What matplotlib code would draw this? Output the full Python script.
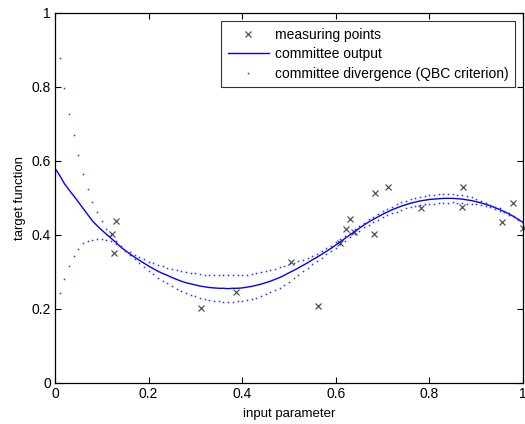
import numpy as np
import matplotlib
matplotlib.use("Agg")
import matplotlib.pyplot as plt

plt.rcParams['font.family'] = ['Liberation Sans', 'DejaVu Sans']

# ---- data ----
x_grid = np.round(np.arange(101) * 0.01, 2)

committee_output = [
    0.580, 0.561, 0.539, 0.522, 0.506, 0.489, 0.472, 0.455, 0.438, 0.425,
    0.413, 0.402, 0.391, 0.380, 0.368, 0.358, 0.349, 0.340, 0.332, 0.324,
    0.316, 0.309, 0.302, 0.296, 0.291, 0.285, 0.280, 0.275, 0.271, 0.268,
    0.265, 0.262, 0.260, 0.258, 0.257, 0.256, 0.256, 0.255, 0.256, 0.256,
    0.257, 0.259, 0.261, 0.264, 0.267, 0.271, 0.275, 0.280, 0.285, 0.291,
    0.298, 0.304, 0.311, 0.318, 0.325, 0.333, 0.340, 0.348, 0.356, 0.364,
    0.373, 0.382, 0.391, 0.400, 0.409, 0.418, 0.427, 0.435, 0.442, 0.449,
    0.456, 0.462, 0.468, 0.473, 0.478, 0.482, 0.486, 0.489, 0.492, 0.494,
    0.496, 0.497, 0.498, 0.499, 0.499, 0.499, 0.498, 0.497, 0.495, 0.493,
    0.490, 0.487, 0.483, 0.479, 0.474, 0.469, 0.463, 0.457, 0.450, 0.442,
    0.434]

# divergence band (no sample at x = 0, first at 0.01)
divergence_x = x_grid[1:]
divergence = [
    0.317, 0.258, 0.206, 0.163, 0.126, 0.094, 0.070, 0.052, 0.037,
    0.024, 0.015, 0.008, 0.003, 0.001, 0.002, 0.004, 0.006, 0.008, 0.010,
    0.012, 0.014, 0.017, 0.019, 0.021, 0.023, 0.025, 0.027, 0.028, 0.030,
    0.031, 0.032, 0.033, 0.034, 0.035, 0.035, 0.036, 0.036, 0.036, 0.035,
    0.035, 0.034, 0.034, 0.033, 0.032, 0.031, 0.030, 0.029, 0.028, 0.026,
    0.024, 0.021, 0.018, 0.015, 0.013, 0.011, 0.010, 0.009, 0.008, 0.007,
    0.007, 0.006, 0.006, 0.006, 0.006, 0.006, 0.006, 0.007, 0.007, 0.008,
    0.008, 0.009, 0.009, 0.010, 0.010, 0.010, 0.011, 0.011, 0.011, 0.011,
    0.011, 0.012, 0.012, 0.012, 0.012, 0.011, 0.011, 0.011, 0.010, 0.009,
    0.007, 0.005, 0.004, 0.003, 0.003, 0.003, 0.002, 0.002, 0.002, 0.002,
    0.002]

meas_x = [0.121, 0.126, 0.130, 0.313, 0.387, 0.504, 0.561, 0.608, 0.622, 0.630,
          0.639, 0.682, 0.684, 0.712, 0.781, 0.870, 0.871, 0.955, 0.978, 1.000]
meas_y = [0.404, 0.352, 0.438, 0.202, 0.247, 0.328, 0.209, 0.379, 0.416, 0.442,
          0.408, 0.403, 0.514, 0.531, 0.472, 0.475, 0.531, 0.434, 0.487, 0.420]

x_ticks = [0, 0.2, 0.4, 0.6, 0.8, 1]
x_tick_labels = ['0', '0.2', '0.4', '0.6', '0.8', '1']
y_ticks = [0, 0.2, 0.4, 0.6, 0.8, 1]
y_tick_labels = ['0', '0.2', '0.4', '0.6', '0.8', '1']

out = np.array(committee_output)
div = np.array(divergence)
out_band = out[1:]

# ---- figure ----
fig = plt.figure(figsize=(5.25, 4.24), dpi=100)
ax = fig.add_axes([55 / 525, 41 / 424, 468 / 525, 370 / 424])

ax.plot(meas_x, meas_y, linestyle='none', marker='x', color='#4a4a4a',
        markersize=4.8, markeredgewidth=0.85, label='measuring points', clip_on=False)
ax.plot(x_grid, out, color='#0000ff', linewidth=1.0, label='committee output')
ax.plot(divergence_x, out_band + div, linestyle='none', marker='s', color='#2a2aff',
        markersize=1.1, markeredgewidth=0, label='committee divergence (QBC criterion)')
ax.plot(divergence_x, out_band - div, linestyle='none', marker='s', color='#2a2aff',
        markersize=1.1, markeredgewidth=0)

ax.set_xlim(0, 1)
ax.set_ylim(0, 1)
ax.set_xticks(x_ticks)
ax.set_xticklabels(x_tick_labels)
ax.set_yticks(y_ticks)
ax.set_yticklabels(y_tick_labels)
ax.tick_params(direction='in', length=4, width=0.8, top=True, right=True,
               labelsize=10, pad=3, colors='black')
for s in ax.spines.values():
    s.set_linewidth(0.9)
    s.set_color('black')

ax.set_xlabel('input parameter', fontsize=9.5, labelpad=5)
ax.set_ylabel('target function', fontsize=9.5, labelpad=4)

leg = ax.legend(loc='upper right', fontsize=10, frameon=True, fancybox=False,
                edgecolor='#333333', framealpha=1, handlelength=3.0,
                handletextpad=0.4, borderpad=0.45, labelspacing=0.4,
                borderaxespad=0.6, markerscale=1.0)
leg.get_frame().set_linewidth(0.8)

fig.savefig('out.png', dpi=100)
